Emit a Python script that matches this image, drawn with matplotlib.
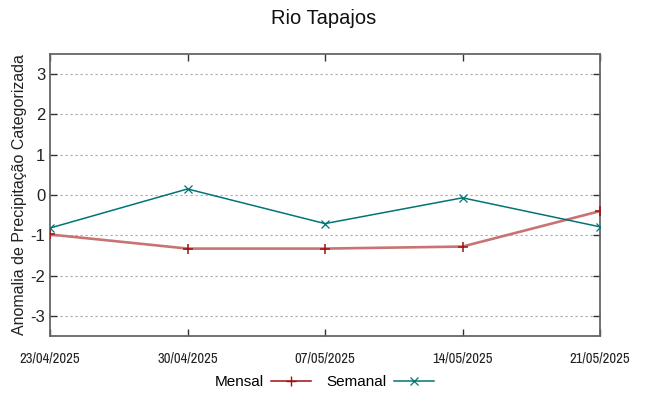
import matplotlib
matplotlib.use('Agg')
import matplotlib.pyplot as plt
from matplotlib import font_manager

# values
dates = ['23/04/2025', '30/04/2025', '07/05/2025', '14/05/2025', '21/05/2025']
mensal = [-0.98, -1.33, -1.33, -1.28, -0.40]
semanal = [-0.82, 0.15, -0.71, -0.07, -0.79]
yticks = [-3, -2, -1, 0, 1, 2, 3]

plt.rcParams['font.family'] = ['Liberation Sans', 'DejaVu Sans']
plt.rcParams['axes.unicode_minus'] = False

# narrow font for the date labels, if one is installed
narrow = None
for f in font_manager.fontManager.ttflist:
    if 'Narrow' in f.name:
        narrow = f.name
        break
if narrow is None:
    for f in font_manager.fontManager.ttflist:
        if 'Condensed' in f.name or f.stretch in ('condensed', 'semi-condensed', 600, 700):
            narrow = f.name
            break
if narrow is None:
    narrow_kw = dict(family=['Liberation Sans'], fontsize=8.2)
else:
    narrow_kw = dict(family=[narrow, 'DejaVu Sans'], fontsize=10.5)

fig = plt.figure(figsize=(6.48, 3.96), dpi=100)
ax = fig.add_axes([50 / 648, 1 - 336 / 396, 550 / 648, 282 / 396])

x = list(range(len(dates)))
ax.plot(x, mensal, color='#c87474', lw=1.9, zorder=3)
ax.plot(x, mensal, ls='none', marker='+', ms=7, mew=1.1, color='#a01010', zorder=4)
ax.plot(x, semanal, color='#007575', lw=1.1, marker='x', ms=5.5, mew=0.9, zorder=4)

# legend handles (thin lines like the reference key)
h1, = ax.plot([], [], color='#a01010', lw=1.1, marker='+', ms=7, mew=1.0, label='Mensal')
h2, = ax.plot([], [], color='#007575', lw=1.1, marker='x', ms=5.5, mew=0.9, label='Semanal')
fig.legend(handles=[h1, h2], loc='center', bbox_to_anchor=(0.5, 1 - 382 / 396),
           ncol=2, frameon=False, markerfirst=False, fontsize=11,
           handlelength=2.6, columnspacing=1.0, handletextpad=0.5)

ax.set_xlim(0, len(dates) - 1)
ax.set_ylim(-3.5, 3.5)
ax.set_xticks(x)
ax.set_xticklabels(dates, **narrow_kw)
ax.set_yticks(yticks)
ax.tick_params(axis='y', labelsize=12)
ax.tick_params(direction='in', top=True, right=True, length=5, width=1, color='#333333', labelcolor='#222222')
ax.tick_params(axis='x', pad=11)
ax.yaxis.grid(True, ls=(0, (2, 2.5)), color='#aaaaaa', lw=0.8)

for s in ax.spines.values():
    s.set_color('#666666')
    s.set_linewidth(1.3)

ax.set_ylabel('Anomalia de Precipitação Categorizada', fontsize=11.5, color='#222222', labelpad=2)
fig.suptitle('Rio Tapajos', y=1 - 19 / 396, va='center', fontsize=14.5, color='#111111')

fig.savefig('out.png', dpi=100)
